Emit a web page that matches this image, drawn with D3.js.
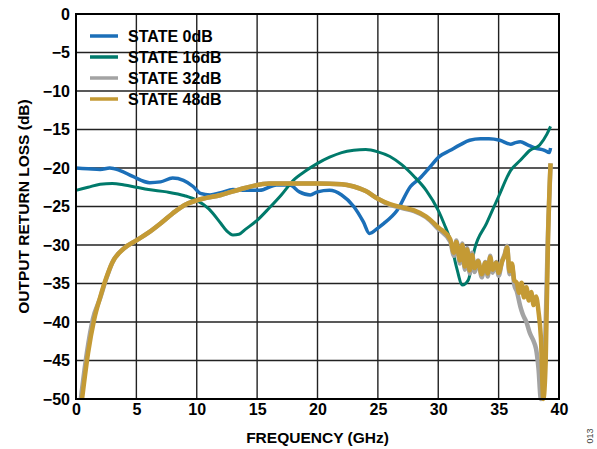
<!DOCTYPE html>
<html>
<head>
<meta charset="utf-8">
<script src="https://cdn.jsdelivr.net/npm/d3@7"></script>
<style>
body { margin: 0; background: #fff; }
text { font-family: "Liberation Sans", Arial, sans-serif; }
</style>
</head>
<body>
<div id="chart"></div>
<script>
// tick values
const xTicks = [0, 5, 10, 15, 20, 25, 30, 35, 40];
const yTicks = [0, -5, -10, -15, -20, -25, -30, -35, -40, -45, -50];

// series, [GHz, dB]
const state0 = [[0,-20],[1,-20.1],[2,-20.2],[2.8,-20],[3.6,-20.3],[4.7,-21.1],[6.1,-21.9],[7,-21.8],[8,-21.3],[8.9,-21.6],[9.7,-22.4],[10.3,-23.3],[11.1,-23.5],[12,-23.2],[13,-22.8],[14,-22.9],[15.2,-22.9],[16.6,-22.2],[17.7,-22.2],[18.5,-23.1],[19.4,-23.5],[20,-23.1],[21,-22.9],[22,-23.5],[23,-25],[23.8,-27],[24.3,-28.5],[25,-27.8],[25.5,-27.2],[26.6,-25.5],[27.7,-22.4],[28.5,-21.3],[29.3,-19.9],[30.1,-18.5],[31,-17.7],[31.8,-17],[32.6,-16.4],[33.5,-16.2],[34.2,-16.2],[35.1,-16.4],[36,-16.9],[36.4,-16.7],[36.8,-16.6],[37.4,-17],[38,-17.4],[38.8,-17.7],[39.2,-18],[39.3,-17.4]];

const state16 = [[0,-22.9],[1,-22.5],[2,-22.1],[3,-22],[4,-22.2],[5,-22.5],[6,-22.8],[7.5,-23.1],[9,-23.6],[10,-24.2],[11,-25.3],[12,-27.2],[12.5,-28.2],[13,-28.7],[13.5,-28.6],[14,-28],[15,-26.8],[16,-25.2],[17,-23.5],[18,-21.6],[19,-20.4],[20,-19.4],[21,-18.6],[22,-18],[23,-17.7],[24,-17.6],[25,-17.9],[26,-18.5],[27,-19.6],[28,-21.1],[29,-22.9],[30,-25.5],[30.5,-27.3],[31,-29.4],[31.5,-32.8],[32,-35.2],[32.5,-34.5],[33,-30.6],[34,-27.2],[35,-23.7],[36,-20.3],[36.8,-19],[37.6,-17.7],[38.4,-17],[39,-15.6],[39.3,-14.6]];

const state32 = [[0.4,-50],[0.9,-44],[1.4,-39.6],[2,-36.9],[2.5,-34.4],[3,-32.3],[4,-30.4],[5,-29.4],[6,-28.4],[7,-27.2],[8,-25.9],[9,-24.8],[10,-24.2],[12,-23.5],[14,-22.6],[16,-22],[18,-22],[20,-22],[22,-22.1],[23,-22.4],[24,-23],[25,-24],[26,-24.8],[27,-25.2],[28,-25.6],[29,-26.4],[30,-27.9],[31,-29.6],[31.3,-31.4],[31.5,-29.4],[31.8,-32.4],[32,-29.8],[32.2,-33.2],[32.4,-30.4],[32.6,-33.7],[32.8,-31],[33,-33.5],[33.3,-32],[33.6,-34.2],[33.9,-32.2],[34.1,-34.1],[34.3,-31.4],[34.5,-33.6],[34.8,-32.2],[35,-34],[35.3,-32],[35.5,-31.2],[35.7,-30.1],[35.9,-33.8],[36.1,-32.6],[36.3,-35.2],[36.5,-36],[36.8,-38],[37,-39],[37.3,-40],[37.6,-41.5],[37.9,-42.5],[38.1,-43.5],[38.3,-46],[38.5,-50],[38.8,-45],[39.1,-28],[39.3,-19.4]];

const state48 = [[0.5,-50],[1,-44],[1.5,-39.7],[2,-36.8],[2.5,-34.3],[3,-32.3],[4,-30.4],[5,-29.4],[6,-28.4],[7,-27.2],[8,-25.9],[9,-24.8],[10,-24.2],[12,-23.5],[14,-22.6],[16,-22],[18,-22],[20,-22],[22,-22.1],[23,-22.4],[24,-23],[25,-24],[26,-24.7],[27,-25.1],[28,-25.5],[29,-26.3],[30,-27.7],[31,-29.3],[31.3,-31],[31.5,-29.6],[31.8,-32],[32,-30],[32.2,-32.8],[32.4,-30.6],[32.6,-33.3],[32.8,-31.3],[33,-33],[33.3,-32.1],[33.6,-33.8],[33.9,-32.3],[34.1,-33.7],[34.3,-31.6],[34.5,-33.2],[34.8,-32.3],[35,-33.6],[35.3,-32.1],[35.5,-31.4],[35.7,-30.3],[35.9,-33.4],[36.1,-32.4],[36.3,-34.6],[36.5,-34.9],[36.7,-36.2],[36.9,-34.9],[37.1,-36.8],[37.3,-35.5],[37.5,-37.2],[37.7,-36.1],[37.9,-37.8],[38.1,-36.7],[38.3,-38.6],[38.5,-42],[38.7,-50],[38.9,-45],[39.1,-28.5],[39.3,-19.4]];

const seriesNames = ["STATE 0dB", "STATE 16dB", "STATE 32dB", "STATE 48dB"];
const seriesColors = ["#1b6fb8", "#007a6b", "#a3a3a3", "#c49a34"];
const seriesWidths = [3.5, 3, 4.5, 4.5];

const W = 597, H = 449;
const margin = {left: 76, top: 14, right: 38, bottom: 50};
const width = W - margin.left - margin.right;
const height = H - margin.top - margin.bottom;

const svg = d3.select("#chart").append("svg")
	.attr("width", W)
	.attr("height", H);

const g = svg.append("g")
	.attr("transform", "translate(" + margin.left + "," + margin.top + ")");

const x = d3.scaleLinear().domain([0, 40]).range([0, width]);
const y = d3.scaleLinear().domain([-50, 0]).range([height, 0]);

// grid
g.append("g").selectAll("line").data(xTicks.slice(1, -1)).join("line")
	.attr("x1", d => x(d)).attr("x2", d => x(d))
	.attr("y1", 0).attr("y2", height)
	.attr("stroke", "#222").attr("stroke-width", 1.4);
g.append("g").selectAll("line").data(yTicks.slice(1, -1)).join("line")
	.attr("y1", d => y(d)).attr("y2", d => y(d))
	.attr("x1", 0).attr("x2", width)
	.attr("stroke", "#222").attr("stroke-width", 1.4);

// axes (labels only)
const fmt = d => d < 0 ? "\u2212" + Math.abs(d) : String(d);
const xAxis = g.append("g")
	.attr("transform", `translate(0,${height})`)
	.call(d3.axisBottom(x).tickValues(xTicks).tickFormat(fmt).tickSize(0).tickPadding(5));
const yAxis = g.append("g")
	.call(d3.axisLeft(y).tickValues(yTicks).tickFormat(fmt).tickSize(0).tickPadding(6));
[xAxis, yAxis].forEach(a => {
	a.select(".domain").remove();
	a.selectAll("text")
		.attr("font-family", "'Liberation Sans', Arial, sans-serif")
		.attr("font-size", 16)
		.attr("font-weight", "bold")
		.attr("fill", "#000");
});

// curves
const line = d3.line()
	.x(d => x(d[0]))
	.y(d => y(d[1]))
	.curve(d3.curveMonotoneX);

const allSeries = [state0, state16, state32, state48];
const plot = g.append("g");
allSeries.forEach((s, i) => {
	plot.append("path")
		.datum(s)
		.attr("fill", "none")
		.attr("stroke", seriesColors[i])
		.attr("stroke-width", seriesWidths[i])
		.attr("stroke-linejoin", "round")
		.attr("d", line);
});

// frame
g.append("rect")
	.attr("width", width).attr("height", height)
	.attr("fill", "none").attr("stroke", "#000").attr("stroke-width", 2);

// legend
const legend = g.append("g").attr("transform", "translate(14,22)");
seriesNames.forEach((name, i) => {
	const row = legend.append("g").attr("transform", `translate(0,${i * 21})`);
	row.append("line")
		.attr("x1", 0).attr("x2", 28)
		.attr("stroke", seriesColors[i]).attr("stroke-width", 3.5);
	row.append("text")
		.attr("x", 38).attr("y", 6)
		.attr("font-size", 16).attr("font-weight", "bold")
		.text(name);
});

// axis titles
svg.append("text")
	.attr("x", margin.left + width / 2).attr("y", 443)
	.attr("text-anchor", "middle")
	.attr("font-size", 15.5).attr("font-weight", "bold")
	.text("FREQUENCY (GHz)");
svg.append("text")
	.attr("transform", `translate(29,${margin.top + height / 2}) rotate(-90)`)
	.attr("text-anchor", "middle")
	.attr("font-size", 15.5).attr("font-weight", "bold")
	.text("OUTPUT RETURN LOSS (dB)");

svg.append("text")
	.attr("transform", "translate(593,436) rotate(-90)")
	.attr("text-anchor", "middle")
	.attr("font-size", 9).attr("fill", "#444")
	.text("013");
</script>
</body>
</html>
